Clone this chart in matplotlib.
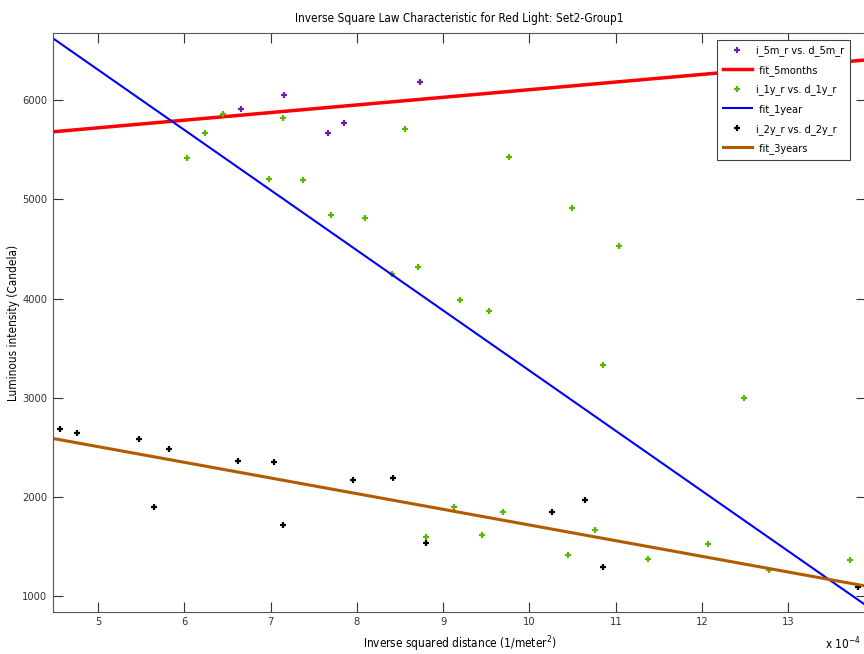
import numpy as np
import matplotlib.pyplot as plt

# x values are in units of 1e-4 (1/meter^2)
x_5m = [6.651, 7.154, 7.668, 7.854, 8.732]
i_5m = [5915, 6050, 5667, 5771, 6185]

x_1y = [6.029, 6.241, 6.446, 6.987, 7.138, 7.378, 7.699, 8.089, 8.411, 8.553,
        8.712, 9.19, 9.528, 9.768, 10.487, 10.85, 11.036, 12.49,
        8.805, 9.122, 9.451, 9.695, 10.449, 10.758, 11.373, 12.073, 12.777, 13.71]
i_1y = [5418, 5667, 5865, 5209, 5821, 5193, 4840, 4815, 4250, 5710,
        4318, 3985, 3874, 5428, 4910, 3334, 4527, 2992,
        1589, 1892, 1612, 1848, 1414, 1663, 1373, 1519, 1259, 1363]

x_2y = [4.563, 4.756, 5.476, 5.653, 5.824, 6.624, 7.045, 7.138, 7.958, 8.414,
        8.797, 10.263, 10.644, 10.85, 13.81]
i_2y = [2679, 2639, 2584, 1892, 2480, 2356, 2346, 1713, 2171, 2191,
        1529, 1842, 1963, 1290, 1085]

# linear fits (intercept, slope)
fit_5m = (5338, 77.0)
fit_1y = (9346, -607.4)
fit_3y = (3296, -158.2)

xlim = (4.478, 13.9)
ylim = (836, 6680)

plt.rcParams['font.family'] = ['DejaVu Sans']
plt.rcParams['font.stretch'] = 'condensed'

fig = plt.figure(figsize=(8.64, 6.54), dpi=100)
ax = fig.add_axes([53/864, 1-612/654, (866-53)/864, (612-33)/654])

xf = np.array(xlim)
ax.plot(x_5m, i_5m, '+', color='#6a1fb0', ms=4, mew=1.6, label='i_5m_r vs. d_5m_r')
ax.plot(xf, fit_5m[0] + fit_5m[1]*xf, color='#ff0000', lw=2.5, label=' fit_5months')
ax.plot(x_1y, i_1y, '+', color='#58b800', ms=4, mew=1.6, label='i_1y_r vs. d_1y_r')
ax.plot(xf, fit_1y[0] + fit_1y[1]*xf, color='#0000ff', lw=1.5, label=' fit_1year')
ax.plot(x_2y, i_2y, '+', color='black', ms=4, mew=1.6, label='i_2y_r vs. d_2y_r')
ax.plot(xf, fit_3y[0] + fit_3y[1]*xf, color='#b35a00', lw=2.2, label=' fit_3years')

ax.set_xlim(xlim)
ax.set_ylim(ylim)
ax.set_xticks(np.arange(5, 14))
ax.set_yticks(np.arange(1000, 6001, 1000))
ax.tick_params(direction='in', top=True, right=True, length=7, labelsize=8, colors='#333333')
ax.tick_params(axis='y', pad=4)
for s in ax.spines.values():
    s.set_color('#555555')

ax.set_title('Inverse Square Law Characteristic for Red Light: Set2-Group1', fontsize=8.5, pad=8)
ax.set_xlabel('Inverse squared distance (1/meter$^2$)', fontsize=8.5)
ax.set_ylabel('Luminous intensity (Candela)', fontsize=8.5)
ax.xaxis.set_label_coords(0.5, -(634-612)/579)
ax.yaxis.set_label_coords(-(53-20)/813, 0.5)
fig.text(843/864, 1-644/654, 'x 10$^{-4}$', fontsize=8.5, ha='center', va='center')

leg = ax.legend(loc='upper right', bbox_to_anchor=(850/864, 1-40/654), bbox_transform=fig.transFigure,
                fontsize=7.8, fancybox=False, edgecolor='#444444', framealpha=1,
                handlelength=2.7, handletextpad=0.4, borderaxespad=0, labelspacing=0.8,
                borderpad=0.5)
leg.get_frame().set_linewidth(0.8)

fig.savefig('out.png', dpi=100)
